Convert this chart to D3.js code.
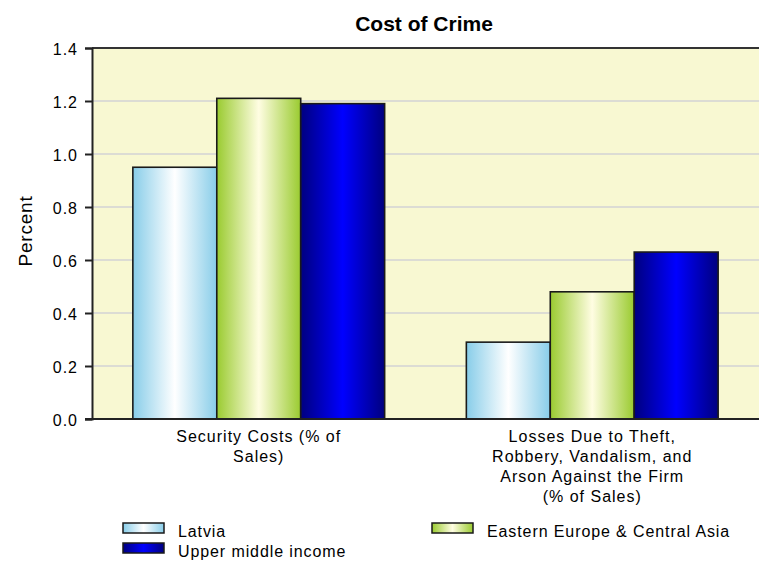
<!DOCTYPE html>
<html>
<head>
<meta charset="utf-8">
<script src="https://cdn.jsdelivr.net/npm/d3@7"></script>
<style>
  html, body { margin: 0; padding: 0; background: #ffffff; }
  svg { display: block; }
  text { font-family: "Liberation Sans", Arial, sans-serif; fill: #000; }
</style>
</head>
<body>
<svg id="chart" width="759" height="561"></svg>
<script>
// Cost of crime, percent of sales
const categories = [
  ["Security Costs (% of", "Sales)"],
  ["Losses Due to Theft,", "Robbery, Vandalism, and", "Arson Against the Firm", "(% of Sales)"]
];
const seriesNames = ["Latvia", "Eastern Europe & Central Asia", "Upper middle income"];
const latvia = [0.95, 0.29];
const easternEurope = [1.21, 0.48];
const upperMiddle = [1.19, 0.63];
const yTicks = [0.0, 0.2, 0.4, 0.6, 0.8, 1.0, 1.2, 1.4];

const seriesValues = [latvia, easternEurope, upperMiddle];
const gradStops = [
  ["#88cde9", "#ffffff", "#88cde9"],
  ["#9acb30", "#fffde2", "#9acb30"],
  ["#00007f", "#0000ff", "#00007f"]
];

const svg = d3.select("#chart");
const W = 759, H = 561;
const m = { left: 92, right: 0, top: 48, bottom: 142 };
const pw = W - m.left - m.right, ph = H - m.top - m.bottom;

// horizontal shading for bars
const defs = svg.append("defs");
gradStops.forEach((s, i) => {
  const g = defs.append("linearGradient").attr("id", "g" + i)
    .attr("x1", "0%").attr("x2", "100%").attr("y1", "0%").attr("y2", "0%");
  g.append("stop").attr("offset", "0%").attr("stop-color", s[0]);
  g.append("stop").attr("offset", "50%").attr("stop-color", s[1]);
  g.append("stop").attr("offset", "100%").attr("stop-color", s[2]);
});

const x0 = d3.scaleBand().domain(d3.range(categories.length)).range([0, pw]).paddingInner(0.245).paddingOuter(0.1225);
const x1 = d3.scaleBand().domain(d3.range(seriesNames.length)).range([0, x0.bandwidth()]).padding(0);
const y = d3.scaleLinear().domain([0, 1.4]).range([ph, 0]);

const g = svg.append("g").attr("transform", `translate(${m.left},${m.top})`);

g.append("rect").attr("width", pw).attr("height", ph).attr("fill", "#f8f8d2");

// gridlines
g.selectAll("line.grid").data(yTicks.filter(t => t > 0 && t < 1.4)).join("line")
  .attr("class", "grid")
  .attr("x1", 0).attr("x2", pw)
  .attr("y1", d => y(d)).attr("y2", d => y(d))
  .attr("stroke", "#dcdcd4").attr("stroke-width", 2);

// bars
const groups = g.selectAll("g.cat").data(categories).join("g")
  .attr("class", "cat")
  .attr("transform", (d, i) => `translate(${x0(i)},0)`);

groups.each(function (c, ci) {
  d3.select(this).selectAll("rect").data(seriesValues.map((s, si) => ({ si, v: s[ci] }))).join("rect")
    .attr("x", d => x1(d.si))
    .attr("y", d => y(d.v))
    .attr("width", x1.bandwidth())
    .attr("height", d => ph - y(d.v))
    .attr("fill", d => `url(#g${d.si})`)
    .attr("stroke", "#1a1a1a").attr("stroke-width", 1.6);
});

// top border
g.append("line").attr("x1", 0).attr("x2", pw).attr("y1", 0).attr("y2", 0)
  .attr("stroke", "#333").attr("stroke-width", 2);

// y axis
const yAxis = g.append("g").call(d3.axisLeft(y).tickValues(yTicks).tickFormat(d3.format(".1f")).tickSize(7).tickPadding(7));
yAxis.select(".domain").attr("stroke", "#222").attr("stroke-width", 2);
yAxis.selectAll(".tick line").attr("stroke", "#222").attr("stroke-width", 2);
yAxis.selectAll(".tick text").attr("font-size", 16).attr("font-family", "Liberation Sans, Arial, sans-serif")
  .attr("letter-spacing", 1).attr("dy", "0.42em").attr("fill", "#000");

// x baseline
g.append("line").attr("x1", -7).attr("x2", pw).attr("y1", ph).attr("y2", ph)
  .attr("stroke", "#222").attr("stroke-width", 2);

// category labels
categories.forEach((lines, i) => {
  const cx = x0(i) + x0.bandwidth() / 2;
  const t = g.append("text").attr("text-anchor", "middle")
    .attr("x", cx)
    .attr("y", ph + 23)
    .attr("font-size", 16).attr("letter-spacing", 1);
  lines.forEach((ln, k) => t.append("tspan").attr("x", cx).attr("dy", k === 0 ? 0 : 20).text(ln));
});

// title
svg.append("text").attr("x", 424).attr("y", 31).attr("text-anchor", "middle")
  .attr("font-size", 21).attr("font-weight", "bold").attr("letter-spacing", 0).text("Cost of Crime");

// y label
svg.append("text").attr("transform", "translate(32,231) rotate(-90)")
  .attr("text-anchor", "middle").attr("font-size", 19).attr("letter-spacing", 0.8).text("Percent");

// legend: Latvia and Upper middle income in the left column, Eastern Europe on the right
const legendPos = [[123, 523], [432, 523], [123, 543]];
seriesNames.forEach((name, i) => {
  const [lx, ly] = legendPos[i];
  svg.append("rect").attr("x", lx).attr("y", ly).attr("width", 41).attr("height", 10)
    .attr("fill", `url(#g${i})`).attr("stroke", "#1a1a1a").attr("stroke-width", 1.5);
  svg.append("text").attr("x", lx + 55).attr("y", ly + 14).attr("font-size", 16)
    .attr("letter-spacing", 0.9).text(name);
});
</script>
</body>
</html>
